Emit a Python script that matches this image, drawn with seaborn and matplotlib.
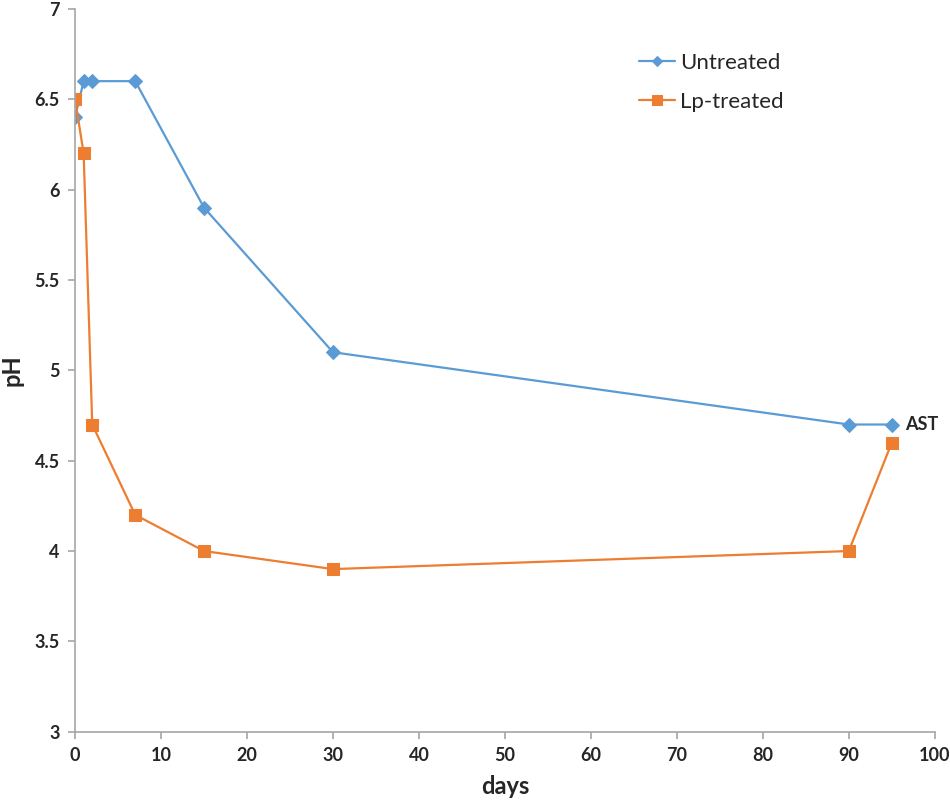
import pandas as pd
import seaborn as sns
import matplotlib.pyplot as plt

days = [0, 1, 2, 7, 15, 30, 90, 95]
untreated = [6.4, 6.6, 6.6, 6.6, 5.9, 5.1, 4.7, 4.7]
lp_treated = [6.5, 6.2, 4.7, 4.2, 4.0, 3.9, 4.0, 4.6]
series_names = ['Untreated', 'Lp-treated']
series_colors = ['#5B9BD5', '#ED7D31']
series_markers = ['D', 's']
x_ticks = list(range(0, 101, 10))
y_ticks = [3, 3.5, 4, 4.5, 5, 5.5, 6, 6.5, 7]

df = pd.DataFrame({
    'days': days * 2,
    'pH': untreated + lp_treated,
    'group': [series_names[0]] * len(days) + [series_names[1]] * len(days),
})

sns.set_style('white')
plt.rcParams['font.family'] = ['Lato', 'DejaVu Sans']

fig = plt.figure(figsize=(9.5, 8.05), dpi=100)
ax = fig.add_axes([0.079, 0.091, 0.905, 0.898])

sizes = [7, 9]
for name, color, marker, ms in zip(series_names, series_colors, series_markers, sizes):
    sub = df[df['group'] == name]
    sns.lineplot(data=sub, x='days', y='pH', ax=ax, color=color, marker=marker,
                 markersize=ms, markeredgecolor=color, linewidth=1.6, label=name)

ax.set_xlim(0, 100)
ax.set_ylim(3, 7)
ax.set_xticks(x_ticks)
ax.set_yticks(y_ticks)
ax.set_yticklabels([f'{v:g}' for v in y_ticks])
for lbl in ax.get_xticklabels() + ax.get_yticklabels():
    lbl.set_fontweight('bold')
    lbl.set_fontsize(13)

ax.set_xlabel('days', fontsize=17, fontweight='bold', labelpad=8)
ax.set_ylabel('pH', fontsize=17, fontweight='bold', labelpad=8)

for side in ['top', 'right']:
    ax.spines[side].set_visible(False)
for side in ['left', 'bottom']:
    ax.spines[side].set_color('#A6A6A6')
    ax.spines[side].set_linewidth(1.2)
ax.tick_params(axis='both', direction='out', length=5, color='#A6A6A6', width=1.2,
               left=True, bottom=True, pad=6)

ax.text(96.6, 4.7, 'AST', fontsize=13, fontweight='bold', va='center', ha='left')

leg = ax.legend(loc='upper left', bbox_to_anchor=(0.633, 0.967), frameon=False,
                fontsize=16, handlelength=1.6, handletextpad=0.25,
                labelspacing=0.85, markerscale=0.75)

fig.savefig('out.png', dpi=100)
